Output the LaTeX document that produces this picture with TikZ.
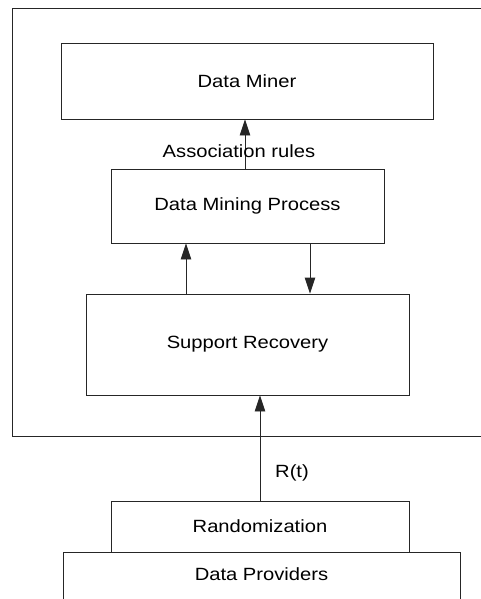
\documentclass[tikz,border=0pt]{standalone}
\usepackage{fontspec}
\setmainfont[FakeStretch=1.14]{Liberation Sans}
\usetikzlibrary{arrows.meta}
\begin{document}
\begin{tikzpicture}[x=1pt,y=-1pt,
  line width=0.9pt,
  every node/.style={font=\fontsize{17.7}{20}\selectfont, inner sep=0pt},
  box/.style={draw=black!85, line width=0.9pt},
  flow/.style={draw=black!85, line width=0.9pt, -{Triangle[length=16pt,width=10.5pt]}},
  lbl/.style={}
]
\useasboundingbox (0,0) rectangle (480,599);

% enclosing frame of the mining side (open to the right)
\draw[black!85] (486,8) -- (12,8) -- (12,436) -- (486,436);

% boxes
\node[box, minimum width=372pt, minimum height=76pt] (miner) at (247,81) {Data Miner};
\node[box, minimum width=273pt, minimum height=74pt] (process) at (247.5,206) {Data Mining Process};
\node[box, minimum width=323pt, minimum height=101pt] (recovery) at (247.5,344.5) {Support Recovery};
\node[box, minimum width=298pt, minimum height=51pt] (random) at (260,526.5) {Randomization};

% data providers: open at the bottom
\node (providers) at (261.5,574) {Data Providers};
\draw[black!85] (63,606) -- (63,552) -- (460,552) -- (460,606);

% connectors
\draw[flow] (process.north -| 245,0) -- (miner.south -| 245,0);
\draw[flow] (recovery.north -| 186,0) -- (process.south -| 186,0);
\draw[flow] (process.south -| 310,0) -- (recovery.north -| 310,0);
\draw[flow] (random.north) -- (recovery.south -| random.north);

% labels
\node[lbl] (assoc) at (239,151) {Association rules};
\node[lbl] (rt) at (292,473) {R(t)};
\end{tikzpicture}
\end{document}
